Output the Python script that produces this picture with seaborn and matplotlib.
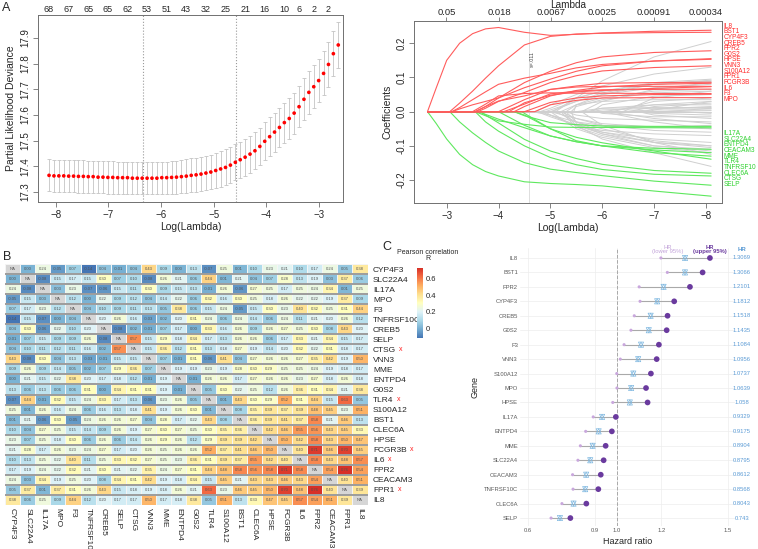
import numpy as np
import pandas as pd
import matplotlib
matplotlib.use("Agg")
import matplotlib.pyplot as plt
import seaborn as sns

# ---------------- data: panel A (cv curve) ----------------
cv_first_loglambda = -8.13
cv_last_loglambda = -2.63
cv_deviance = [17.364, 17.362, 17.362, 17.362, 17.361, 17.361, 17.360, 17.360, 17.359, 17.359,
               17.357, 17.357, 17.356, 17.356, 17.355, 17.355, 17.355, 17.353, 17.353, 17.353,
               17.353, 17.353, 17.353, 17.355, 17.355, 17.356, 17.357, 17.359, 17.361, 17.364,
               17.366, 17.369, 17.373, 17.377, 17.383, 17.389, 17.395, 17.404, 17.415, 17.425,
               17.435, 17.447, 17.460, 17.477, 17.497, 17.515, 17.533, 17.551, 17.570, 17.586,
               17.607, 17.632, 17.661, 17.688, 17.710, 17.734, 17.762, 17.797, 17.839, 17.873]
cv_se = [0.063, 0.063, 0.063, 0.063, 0.063, 0.063, 0.063, 0.063, 0.063, 0.063,
         0.063, 0.063, 0.063, 0.063, 0.063, 0.063, 0.063, 0.063, 0.063, 0.063,
         0.062, 0.062, 0.062, 0.063, 0.063, 0.064, 0.064, 0.065, 0.066, 0.066,
         0.067, 0.067, 0.068, 0.068, 0.069, 0.069, 0.070, 0.070, 0.071, 0.071,
         0.072, 0.072, 0.073, 0.073, 0.074, 0.075, 0.076, 0.077, 0.078, 0.079,
         0.080, 0.081, 0.082, 0.083, 0.084, 0.085, 0.086, 0.087, 0.088, 0.088]
nz_counts = [68, 67, 65, 65, 62, 53, 51, 43, 32, 25, 21, 16, 10, 6, 2, 2]
nz_index = [0, 4, 8, 12, 16, 20, 24, 28, 32, 36, 40, 44, 48, 51, 54, 57]
loglambda_min = -6.35
loglambda_1se = -4.58

# ---------------- data: panel A (coefficient paths) ----------------
path_grid = [-2.8, -3.0, -3.25, -3.5, -3.75, -4.0, -4.5, -5.0, -5.5, -6.0, -7.0, -8.1]
lambda_ticks = [0.05, 0.018, 0.0067, 0.0025, 0.00091, 0.00034]

red_entry = [-2.63, -3.06, -3.1, -3.55, -3.1, -3.6, -4.0, -3.55, -4.3, -4.1, -3.5, -4.7, -4.2, -4.5]
red_tail = [
    [0.07, 0.15, 0.20, 0.228, 0.242, 0.246, 0.232, 0.223, 0.226, 0.230, 0.235, 0.238],
    [0.025, 0.060, 0.098, 0.134, 0.195, 0.220, 0.227, 0.229, 0.231, 0.232],
    [0.008, 0.02, 0.03, 0.04, 0.085, 0.118, 0.143, 0.160, 0.173, 0.178],
    [0.015, 0.04, 0.07, 0.095, 0.118, 0.134, 0.148, 0.155],
    [0.012, 0.035, 0.058, 0.08, 0.098, 0.112, 0.128, 0.138, 0.148, 0.153],
    [0.01, 0.03, 0.056, 0.085, 0.105, 0.119, 0.129, 0.134],
    [0.035, 0.065, 0.075, 0.083, 0.085, 0.086],
    [0.015, 0.031, 0.046, 0.065, 0.072, 0.074, 0.074, 0.074],
    [0.015, 0.046, 0.062, 0.072, 0.080, 0.083],
    [0.022, 0.052, 0.060, 0.064, 0.065, 0.066],
    [0.022, 0.046, 0.053, 0.055, 0.054, 0.054, 0.053, 0.053],
    [0.02, 0.033, 0.040, 0.041, 0.041],
    [0.026, 0.048, 0.058, 0.062, 0.068, 0.073],
    [0.027, 0.040, 0.046, 0.050, 0.051],
]
green_entry = [-2.63, -3.06, -3.55, -3.65, -3.6, -4.0, -4.3, -3.55, -4.3, -4.45]
green_tail = [
    [-0.035, -0.08, -0.125, -0.155, -0.175, -0.188, -0.205, -0.210, -0.213, -0.217, -0.232, -0.247],
    [-0.03, -0.062, -0.09, -0.115, -0.149, -0.168, -0.178, -0.187, -0.203, -0.215],
    [-0.03, -0.057, -0.100, -0.134, -0.155, -0.169, -0.183, -0.188],
    [-0.01, -0.033, -0.081, -0.115, -0.137, -0.154, -0.172, -0.180],
    [-0.008, -0.022, -0.047, -0.071, -0.088, -0.100, -0.120, -0.130],
    [-0.04, -0.071, -0.088, -0.100, -0.112, -0.120],
    [-0.01, -0.05, -0.075, -0.091, -0.115, -0.139],
    [-0.012, -0.027, -0.037, -0.045, -0.046, -0.046, -0.047, -0.047],
    [-0.012, -0.032, -0.038, -0.042, -0.043, -0.043],
    [-0.005, -0.05, -0.085, -0.100, -0.107, -0.110],
]
gray_entry = [-5.1, -4.7, -4.8, -5.0, -5.3, -5.6, -4.9, -5.4, -5.8, -6.2, -5.2, -6.0, -6.5, -5.7,
              -6.8, -7.2, -5.5, -6.3, -7.0, -7.5, -6.6, -5.9, -5.3, -6.1, -4.9, -5.0, -5.2, -4.75,
              -5.3, -5.1, -4.8, -5.2, -5.4, -5.0, -5.25, -5.6, -4.65, -6.0, -6.4, -5.05, -6.9,
              -5.45, -6.7, -5.75, -8.1]
gray_tail = [
    [0.04, 0.09, 0.16, 0.205], [0.02, 0.05, 0.075, 0.11, 0.13], [0.01, 0.04, 0.06, 0.085, 0.095],
    [0.03, 0.055, 0.08, 0.092], [0.02, 0.05, 0.08, 0.09], [0.03, 0.065, 0.085],
    [0.005, 0.03, 0.05, 0.07, 0.08], [0.015, 0.035, 0.055, 0.06], [0.02, 0.045, 0.05],
    [0.03, 0.04], [0.02, 0.03, 0.035, 0.035], [0.02, 0.03], [0.015, 0.025], [0.01, 0.02, 0.02],
    [0.008, 0.015], [0.01], [0.01, 0.012, 0.01], [0.005, 0.005], [0.003], [-0.005],
    [-0.005, -0.01], [-0.005, -0.015, -0.015], [-0.01, -0.02, -0.025, -0.03], [-0.02, -0.035],
    [-0.01, -0.03, -0.04, -0.045, -0.04], [-0.02, -0.035, -0.045, -0.05],
    [-0.02, -0.04, -0.055, -0.06], [-0.015, -0.04, -0.055, -0.065, -0.07],
    [-0.03, -0.06, -0.08, -0.09], [-0.03, -0.05, -0.085, -0.10],
    [-0.01, -0.04, -0.065, -0.09, -0.105], [-0.045, -0.07, -0.1, -0.11],
    [-0.035, -0.065, -0.1, -0.115], [-0.05, -0.075, -0.105, -0.12],
    [-0.04, -0.08, -0.12, -0.16], [-0.04, -0.09, -0.125],
    [-0.01, -0.04, -0.06, -0.09, -0.1], [-0.03, -0.05], [0.04, 0.06],
    [0.04, 0.06, 0.08, 0.088], [0.005, 0.03], [0.02, 0.04, 0.06, 0.065], [-0.01, -0.02],
    [0.005, 0.01, 0.012], [],
]
red_labels = ['IL8', 'BST1', 'CYP4F3', 'CREB5', 'FPR2', 'G0S2', 'HPSE', 'VNN3', 'S100A12',
              'FPR1', 'FCGR3B', 'IL6', 'F3', 'MPO']
green_labels = ['IL17A', 'SLC22A4', 'ENTPD4', 'CEACAM3', 'MME', 'TLR4', 'TNFRSF10',
                'CLEC6A', 'CTSG', 'SELP']

# ---------------- data: panel B (correlation heatmap) ----------------
heat_genes = ['CYP4F3', 'SLC22A4', 'IL17A', 'MPO', 'F3', 'TNFRSF10C', 'CREB5', 'SELP', 'CTSG',
              'VNN3', 'MME', 'ENTPD4', 'G0S2', 'TLR4', 'S100A12', 'BST1', 'CLEC6A', 'HPSE',
              'FCGR3B', 'IL6', 'FPR2', 'CEACAM3', 'FPR1', 'IL8']
flagged_genes = ['CTSG', 'TLR4', 'FCGR3B', 'IL6', 'FPR1']
corr_lower = [
    [],
    [0.00],
    [0.24, -0.08],
    [-0.05, 0.15, 0.03],
    [0.07, 0.17, 0.23, 0.12],
    [-0.14, 0.15, -0.07, 0.00, 0.04],
    [0.04, 0.30, -0.06, 0.22, 0.10, 0.20],
    [-0.01, 0.07, 0.15, 0.09, 0.09, 0.26, -0.08],
    [0.04, 0.10, 0.11, 0.12, 0.11, 0.16, 0.02, 0.57],
    [0.43, -0.08, 0.30, 0.04, 0.13, -0.03, -0.01, 0.15, 0.15],
    [0.09, 0.26, 0.09, 0.14, 0.05, 0.02, 0.07, 0.29, 0.36, 0.07],
    [0.00, 0.21, 0.15, 0.22, 0.38, 0.20, 0.17, 0.18, 0.12, -0.01, 0.19],
    [0.13, 0.06, 0.13, 0.06, 0.06, 0.31, 0.00, 0.34, 0.31, 0.31, 0.19, -0.01],
    [-0.07, 0.44, -0.01, 0.32, 0.15, 0.24, 0.33, 0.17, 0.13, -0.06, 0.23, 0.26, 0.05],
    [0.25, 0.01, 0.26, 0.16, 0.24, 0.06, 0.16, 0.13, 0.18, 0.41, 0.19, 0.26, 0.30, 0.01],
    [0.01, 0.21, -0.06, 0.30, -0.05, 0.24, 0.26, 0.26, 0.27, 0.04, 0.28, 0.17, 0.22, 0.43, 0.08],
    [0.10, 0.04, 0.27, 0.25, 0.15, 0.14, 0.09, 0.26, 0.19, 0.27, 0.30, 0.27, 0.25, 0.30, 0.35,
     0.36],
    [0.23, 0.07, 0.25, 0.18, 0.30, 0.06, 0.26, 0.06, 0.14, 0.26, 0.29, 0.26, 0.12, 0.29, 0.39,
     0.39, 0.42],
    [0.21, 0.28, 0.17, 0.26, 0.23, 0.24, 0.27, 0.17, 0.20, 0.26, 0.25, 0.26, 0.26, 0.52, 0.37,
     0.41, 0.46, 0.50],
    [0.10, 0.13, 0.25, 0.22, 0.40, 0.11, 0.25, 0.33, 0.32, 0.27, 0.25, 0.23, 0.36, 0.31, 0.39,
     0.37, 0.55, 0.42, 0.40],
    [0.17, 0.19, 0.24, 0.22, 0.32, 0.21, 0.30, 0.21, 0.22, 0.35, 0.24, 0.27, 0.31, 0.44, 0.48,
     0.58, 0.56, 0.58, 0.71, 0.58],
    [0.24, 0.03, 0.34, 0.19, 0.25, 0.20, 0.08, 0.34, 0.31, 0.42, 0.19, 0.18, 0.34, 0.15, 0.45,
     0.21, 0.43, 0.43, 0.46, 0.43, 0.54],
    [0.05, 0.37, 0.01, 0.37, 0.31, 0.26, 0.43, 0.15, 0.18, 0.19, 0.18, 0.26, 0.21, 0.63, 0.23,
     0.46, 0.45, 0.50, 0.70, 0.48, 0.76, 0.40],
    [0.38, 0.06, 0.25, 0.09, 0.44, 0.12, 0.20, 0.17, 0.17, 0.50, 0.17, 0.18, 0.38, 0.05, 0.51,
     0.13, 0.33, 0.47, 0.45, 0.57, 0.54, 0.51, 0.39],
]

# ---------------- data: panel C (hazard ratios) ----------------
forest_genes = ['IL8', 'BST1', 'FPR2', 'CYP4F3', 'CREB5', 'G0S2', 'F3', 'VNN3', 'S100A12', 'MPO',
                'HPSE', 'IL17A', 'ENTPD4', 'MME', 'SLC22A4', 'CEACAM3', 'TNFRSF10C', 'CLEC6A',
                'SELP']
hr = [1.3069, 1.3066, 1.2101, 1.1812, 1.1518, 1.1435, 1.1084, 1.0956, 1.0737, 1.0639, 1.058,
      0.9329, 0.9175, 0.8904, 0.8795, 0.8612, 0.8568, 0.8043, 0.743]
hr_lower = [1.198, 1.227, 1.100, 1.104, 1.078, 1.063, 1.032, 1.015, 0.999, 1.000, 0.981,
            0.893, 0.859, 0.835, 0.824, 0.800, 0.802, 0.752, 0.703]
hr_upper = [1.419, 1.386, 1.329, 1.258, 1.228, 1.224, 1.189, 1.179, 1.153, 1.131, 1.138,
            0.995, 0.977, 0.949, 0.940, 0.927, 0.916, 0.862, 0.790]
hr_breaks = [0.6, 0.9, 1.0, 1.2, 1.5]

# ---------------- figure ----------------
sns.set_theme(style="white")
plt.rcParams['font.family'] = ['Liberation Sans', 'DejaVu Sans']

W, H = 758, 549
fig = plt.figure(figsize=(W / 100, H / 100), dpi=100)


def px_axes(x0, y0, x1, y1):
    return fig.add_axes([x0 / W, 1 - y1 / H, (x1 - x0) / W, (y1 - y0) / H])


def r_style(ax):
    for s in ax.spines.values():
        s.set_color('#707070')
        s.set_linewidth(0.7)
    ax.tick_params(direction='out', length=3.5, width=0.6, color='#707070',
                   labelsize=7, pad=2, bottom=True, left=True)
    ax.tick_params(axis='y', labelrotation=90)
    for lbl in ax.get_yticklabels():
        lbl.set_va('center')


# ---- A left: cross-validation deviance
axa = px_axes(38, 15, 343, 202)
cv_x = np.linspace(cv_first_loglambda, cv_last_loglambda, len(cv_deviance))
axa.errorbar(cv_x, cv_deviance, yerr=cv_se, fmt='none', ecolor='#C4C4C4',
             elinewidth=0.6, capsize=1.5, capthick=0.6, zorder=1)
sns.scatterplot(x=cv_x, y=cv_deviance, ax=axa, color='#FF0000', s=7,
                edgecolor='none', zorder=3)
axa.axvline(loglambda_min, color='#9A9A9A', ls=':', lw=0.8)
axa.axvline(loglambda_1se, color='#9A9A9A', ls=':', lw=0.8)
axa.set_xlim(-8.34, -2.54)
axa.set_ylim(17.26, 17.99)
axa.set_xticks([-8, -7, -6, -5, -4, -3])
axa.set_yticks([17.3, 17.4, 17.5, 17.6, 17.7, 17.8, 17.9])
axa.set_yticklabels([f"{v:.1f}" for v in [17.3, 17.4, 17.5, 17.6, 17.7, 17.8, 17.9]])
axa.set_xlabel('Log(Lambda)', fontsize=7.5, labelpad=2)
axa.set_ylabel('Partial Likelihood Deviance', fontsize=7.5, labelpad=3)
r_style(axa)
for n, i in zip(nz_counts, nz_index):
    axa.text(cv_x[i], 1.032, str(n), transform=axa.get_xaxis_transform(),
             ha='center', va='center', fontsize=6.5)


# ---- A right: coefficient paths
def coef_path(entry, tail):
    xs = [cv_last_loglambda, entry] + (path_grid[len(path_grid) - len(tail):] if tail else [])
    ys = [0.0, 0.0] + list(tail)
    return xs, ys


axb = px_axes(414, 21, 722, 203)
for e, t in zip(gray_entry, gray_tail):
    xs, ys = coef_path(e, t)
    axb.plot(xs, ys, color='#CFCFCF', lw=0.7, zorder=1)
for e, t in zip(green_entry, green_tail):
    xs, ys = coef_path(e, t)
    axb.plot(xs, ys, color='#5EE85E', lw=0.8, zorder=2)
for e, t in zip(red_entry, red_tail):
    xs, ys = coef_path(e, t)
    axb.plot(xs, ys, color='#FF5C5C', lw=0.8, zorder=2)
axb.axvline(loglambda_1se, color='#DDDDDD', lw=0.7, zorder=0)
axb.text(loglambda_1se - 0.03, 0.153, 's=.011', rotation=90, fontsize=3.8,
         ha='left', va='center', color='#444444')
axb.set_xlim(-2.37, -8.31)
axb.set_ylim(-0.267, 0.265)
axb.set_xticks([-3, -4, -5, -6, -7, -8])
axb.set_yticks([-0.2, -0.1, 0.0, 0.1, 0.2])
axb.set_yticklabels(['-0.2', '-0.1', '0.0', '0.1', '0.2'])
axb.set_xlabel('Log(Lambda)', fontsize=7.5, labelpad=2)
axb.set_ylabel('Coefficients', fontsize=7.5, labelpad=3)
r_style(axb)
top = axb.secondary_xaxis('top')
top.set_xticks(np.log(lambda_ticks))
top.set_xticklabels([str(v) for v in lambda_ticks])
top.tick_params(direction='out', length=2.6, width=0.6, color='#707070', labelsize=6.8, pad=0.3)
top.spines['top'].set_visible(False)
fig.text((414 + 722) / 2 / W, 1 - 4.5 / H, 'Lambda', fontsize=7.2, ha='center', va='center')
for g, y in zip(red_labels, np.linspace(0.250, 0.036, len(red_labels))):
    axb.text(1.006, y, g, transform=axb.get_yaxis_transform(), color='#FF2A2A',
             fontsize=4.7, va='center', ha='left')
for g, y in zip(green_labels, np.linspace(-0.064, -0.2126, len(green_labels))):
    axb.text(1.006, y, g, transform=axb.get_yaxis_transform(), color='#2ED12E',
             fontsize=4.7, va='center', ha='left')

# ---- B: correlation heatmap
n = len(heat_genes)
corr = np.full((n, n), np.nan)
for i, row in enumerate(corr_lower):
    for j, v in enumerate(row):
        corr[i, j] = v
        corr[j, i] = v
corr_df = pd.DataFrame(corr, index=heat_genes, columns=heat_genes)
annot = np.array([[f"{v:.2f}" if not np.isnan(v) else "" for v in r] for r in corr])
heat_cmap = sns.blend_palette(['#4575B4', '#74ADD1', '#ABD9E9', '#E0F3F8', '#FFFFBF',
                               '#FEE090', '#FDAE61', '#F46D43', '#D73027'], as_cmap=True)

axh = px_axes(5, 264, 367.5, 505)
cax = px_axes(417, 268, 423, 338)
sns.heatmap(corr_df, ax=axh, cmap=heat_cmap, vmin=-0.12, vmax=0.73, annot=annot, fmt='',
            annot_kws={'size': 3.0, 'color': '#505050'}, linewidths=0.4, linecolor='#F4F4F4',
            xticklabels=True, yticklabels=True,
            cbar_ax=cax, cbar_kws={'ticks': [0, 0.2, 0.4, 0.6]})
axh.set_facecolor('#D6D6D6')
for k in range(n):
    axh.text(k + 0.5, k + 0.5, 'NA', ha='center', va='center', fontsize=3.0, color='#505050')
axh.hlines(np.arange(1, n), 0, n, colors='#9C9C9C', lw=1.4)
axh.yaxis.tick_right()
axh.tick_params(length=0, pad=4)
axh.set_yticklabels(heat_genes, rotation=0, fontsize=6.0, ha='left')
axh.set_xticklabels(heat_genes, rotation=270, fontsize=6.0, ha='center', va='top')
axh.tick_params(axis='x', pad=2)
cbar = axh.collections[0].colorbar
cbar.outline.set_visible(False)
cbar.set_ticklabels(['0', '0.2', '0.4', '0.6'])
cax.tick_params(length=0, labelsize=5.5, pad=2)
fig.text(428 / W, 1 - 253 / H, 'Pearson correlation', fontsize=5, ha='center', va='center')
fig.text(428 / W, 1 - 259 / H, 'R', fontsize=5, ha='center', va='center')

# ---- C: hazard ratio dot plot
axc = px_axes(520, 248, 735, 526)
ypos = np.arange(len(forest_genes))
axc.set_xlim(0.563, 1.532)
axc.set_ylim(18.55, -0.69)
axc.grid(True, color='#EDEDED', lw=0.5)
axc.set_axisbelow(True)
axc.axvline(1.0, color='#A8A8A8', ls='--', lw=0.7, zorder=1)
axc.hlines(ypos, hr_lower, hr_upper, color='#A9A9A9', lw=0.8, zorder=2)
sns.scatterplot(x=hr_lower, y=ypos, ax=axc, color='#C9A7DD', s=5, edgecolor='none', zorder=3)
axc.scatter(hr, ypos, marker='^', facecolors='none', edgecolors='#7DB7E0', s=14, lw=0.5, zorder=4)
axc.scatter(hr, ypos, marker='v', facecolors='none', edgecolors='#7DB7E0', s=14, lw=0.5, zorder=4)
sns.scatterplot(x=hr_upper, y=ypos, ax=axc, color='#6A3A9E', s=17, edgecolor='none', zorder=5)
for s in axc.spines.values():
    s.set_visible(False)
axc.set_yticks(ypos)
axc.set_yticklabels(forest_genes)
axc.set_xticks(hr_breaks)
axc.set_xticklabels([f"{v:.1f}" for v in hr_breaks])
axc.tick_params(length=0, labelsize=4.2, labelcolor='#5A5A5A', pad=1.5)
axc.set_xlabel('Hazard ratio', fontsize=6.5, labelpad=3)
axc.set_ylabel('Gene', fontsize=6.5, labelpad=3)
hr_text_x = 1.563
for y, v in zip(ypos, hr):
    axc.text(hr_text_x, y, str(v), color='#5B9BD5', fontsize=4.2, ha='center', va='center',
             clip_on=False)
axc.text(max(hr_lower[:2]), -0.6, 'HR\n(lower 95%)', color='#C3A4DA', fontsize=4.2,
         ha='center', va='center', linespacing=0.9, clip_on=False)
axc.text(hr_upper[0], -0.6, 'HR\n(upper 95%)', color='#6A3A9E', fontsize=4.2,
         fontweight='bold', ha='center', va='center', linespacing=0.9, clip_on=False)
axc.text(hr_text_x, -0.62, 'HR', color='#5B9BD5', fontsize=4.4, fontweight='bold',
         ha='center', va='center', clip_on=False)

# ---- panel letters
fig.text(2 / W, 1 - 8 / H, 'A', fontsize=9, va='center', ha='left')
fig.text(3 / W, 1 - 257 / H, 'B', fontsize=9, va='center', ha='left')
fig.text(382 / W, 1 - 247 / H, 'C', fontsize=9, va='center', ha='left')

# red crosses after flagged heatmap rows
fig.canvas.draw()
renderer = fig.canvas.get_renderer()
for lbl in axh.get_yticklabels():
    if lbl.get_text() in flagged_genes:
        bb = lbl.get_window_extent(renderer)
        fig.text((bb.x1 + 3) / W, ((bb.y0 + bb.y1) / 2 + 1) / H, 'x', color='#FF2020',
                 fontsize=5, ha='left', va='center')

fig.savefig('out.png', dpi=100)
